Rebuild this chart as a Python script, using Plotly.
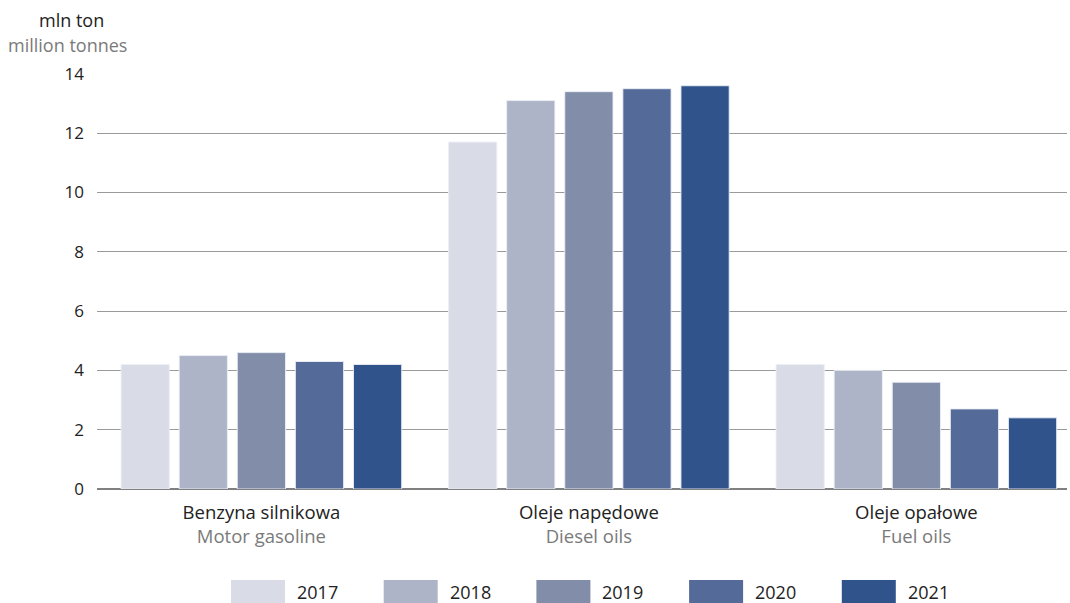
import plotly.graph_objects as go

categories_pl = ["Benzyna silnikowa", "Oleje napędowe", "Oleje opałowe"]
categories_en = ["Motor gasoline", "Diesel oils", "Fuel oils"]
years = ["2017", "2018", "2019", "2020", "2021"]
values = {
    "2017": [4.2, 11.7, 4.2],
    "2018": [4.5, 13.1, 4.0],
    "2019": [4.6, 13.4, 3.6],
    "2020": [4.3, 13.5, 2.7],
    "2021": [4.2, 13.6, 2.4],
}
colors = ["#d9dce6", "#aeb4c8", "#828daa", "#546a98", "#30538c"]
y_ticks = [0, 2, 4, 6, 8, 10, 12, 14]

FONT = "Open Sans"
W, H = 1070, 603
L, R, T, B = 97, 3, 73, 114
pw = W - L - R
ph = H - T - B

fig = go.Figure()
for yr, c in zip(years, colors):
    fig.add_trace(go.Bar(
        x=categories_pl, y=values[yr], name=yr,
        marker=dict(color=c, line=dict(color="rgba(235,238,245,0.9)", width=1)),
        showlegend=False,
    ))

ticktext = [f"{p}<br><span style='color:#7a7a7a'>{e}</span>" for p, e in zip(categories_pl, categories_en)]

shapes = []
annotations = [
    dict(text="mln ton", x=(37 - L) / pw, y=(H - B - 20) / ph, xref="paper", yref="paper",
         xanchor="left", yanchor="middle", showarrow=False,
         font=dict(family=FONT, size=18, color="#222")),
    dict(text="million tonnes", x=(6 - L) / pw, y=(H - B - 45) / ph, xref="paper", yref="paper",
         xanchor="left", yanchor="middle", showarrow=False,
         font=dict(family=FONT, size=18, color="#7a7a7a")),
]
for i, (yr, c) in enumerate(zip(years, colors)):
    x0 = 231 + i * 152.7
    shapes.append(dict(type="rect", xref="paper", yref="paper",
                       x0=(x0 - L) / pw, x1=(x0 + 54 - L) / pw,
                       y0=(H - B - 580) / ph, y1=(H - B - 603) / ph,
                       fillcolor=c, line=dict(width=0)))
    annotations.append(dict(text=yr, x=(x0 + 64 - L) / pw, y=(H - B - 592) / ph,
                            xref="paper", yref="paper", xanchor="left", yanchor="middle",
                            showarrow=False, font=dict(family=FONT, size=18, color="#222")))

fig.update_layout(
    width=W, height=H,
    margin=dict(l=L, r=R, t=T, b=B),
    paper_bgcolor="white", plot_bgcolor="white",
    barmode="group", bargap=0.113, bargroupgap=0.17,
    font=dict(family=FONT, size=18, color="#222"),
    xaxis=dict(tickmode="array", tickvals=categories_pl, ticktext=ticktext,
               range=[-0.502, 2.46],
               showgrid=False, showline=False, ticks="", ticklabelstandoff=10,
               tickfont=dict(size=18.5, color="#222")),
    yaxis=dict(range=[0, 14.03], tickvals=y_ticks, showgrid=True, gridcolor="#9a9a9a", gridwidth=1,
               zeroline=True, zerolinecolor="#808080", zerolinewidth=2,
               ticks="", ticklabelstandoff=12, tickfont=dict(size=17, color="#222")),
    shapes=shapes, annotations=annotations,
)
fig.write_html("out.html", config={"displayModeBar": False},
               post_script="document.body.style.margin='0';document.body.style.overflow='hidden';")
